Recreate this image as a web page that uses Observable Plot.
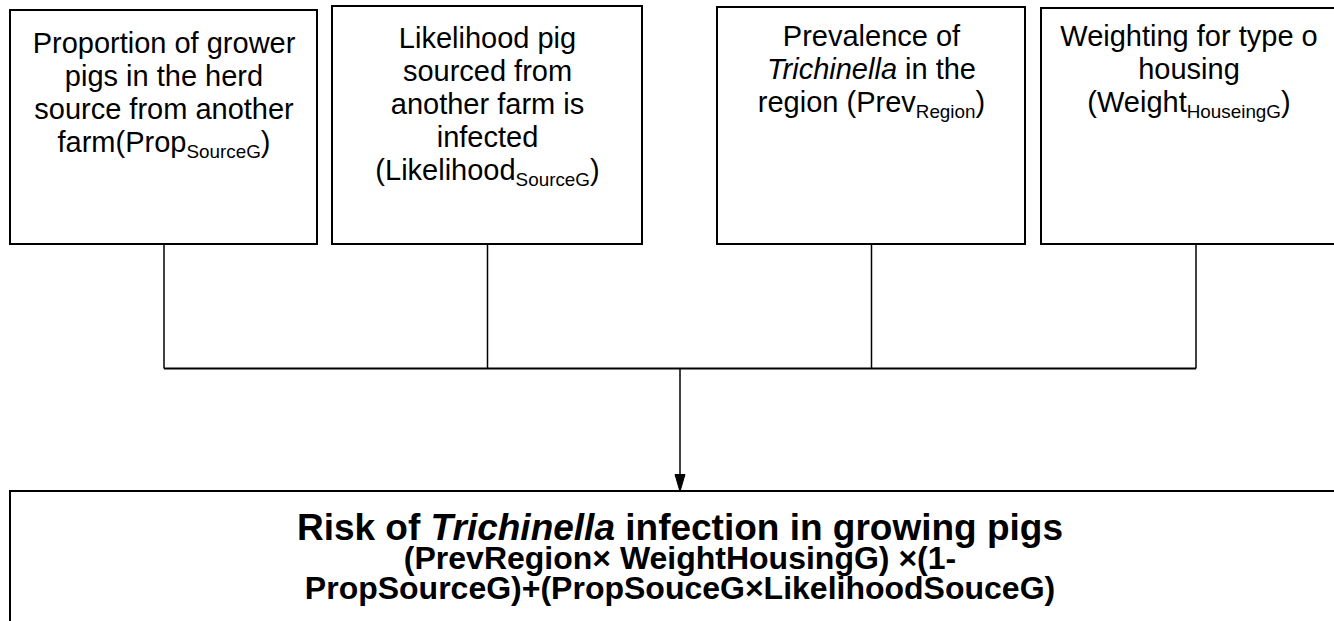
<!DOCTYPE html>
<html>
<head>
<meta charset="utf-8">
<script src="https://cdn.jsdelivr.net/npm/d3@7"></script>
<script src="https://cdn.jsdelivr.net/npm/@observablehq/plot@0.6"></script>
<style>
  html, body { margin: 0; padding: 0; background: #ffffff; overflow: hidden; }
  #chart svg { display: block; }
</style>
</head>
<body>
<div id="chart"></div>
<script>
// ---- Text content (markup: *italic*, _{subscript}) ----
const propSourceLines = ["Proportion of grower", "pigs in the herd", "source from another", "farm(Prop_{SourceG})"];
const likelihoodLines = ["Likelihood pig", "sourced from", "another farm is", "infected", "(Likelihood_{SourceG})"];
const prevalenceLines = ["Prevalence of", "*Trichinella* in the", "region (Prev_{Region})"];
const weightingLines = ["Weighting for type o", "housing", "(Weight_{HouseingG})"];
const inputLines = [propSourceLines, likelihoodLines, prevalenceLines, weightingLines];
const outcomeTitle = "Risk of *Trichinella* infection in growing pigs";
const outcomeFormula = ["(PrevRegion× WeightHousingG) ×(1-", "PropSourceG)+(PropSouceG×LikelihoodSouceG)"];

// ---- Layout (diagram geometry, in pixel-space scale units) ----
const W = 1334, H = 621;
const boxTop = [10, 6, 7, 8];
const boxLeft = [10, 332, 717, 1041];
const boxRight = [317, 642, 1025, 1350];
const boxBottom = 244;
const textCenterShift = [0, 0, 0, -7];
const firstBaseline = [52, 47, 45, 45];
const lineStep = 33;
const busY = 368;
const outcomeBox = {x1: 10, x2: 1350, y1: 491, y2: 660};
const titleBaseline = 539;
const formulaOffsets = [0, 29, 59];   // baseline offsets of title / formula lines
const outcomeSizes = [37, 32, 32];
const arrowLen = 17, arrowHalf = 5;

const boxes = boxLeft.map((x1, i) => ({x1, x2: boxRight[i], y1: boxTop[i], y2: boxBottom}));
const centers = boxes.map(b => (b.x1 + b.x2) / 2);
const hubX = (centers[0] + centers[centers.length - 1]) / 2;

const inputText = inputLines.flatMap((lines, i) =>
  lines.map((t, k) => ({x: centers[i] + textCenterShift[i], y: firstBaseline[i] + k * lineStep, t})));
const outcomeText = [{x: hubX, y: titleBaseline, t: [outcomeTitle, ...outcomeFormula].join("\n")}];

const drops = centers.map(x => ({x, y1: boxBottom, y2: busY}));
const bus = [{x1: centers[0], x2: centers[centers.length - 1], y: busY}];
const shaft = [{x: hubX, y1: busY, y2: outcomeBox.y1 - arrowLen + 1}];
const head = [
  {x: hubX, y: outcomeBox.y1},
  {x: hubX - arrowHalf, y: outcomeBox.y1 - arrowLen},
  {x: hubX + arrowHalf, y: outcomeBox.y1 - arrowLen},
  {x: hubX, y: outcomeBox.y1}
];

const font = "'Liberation Sans', Arial, Helvetica, sans-serif";

const svg = Plot.plot({
  width: W,
  height: H,
  margin: 0,
  style: {background: "#ffffff", fontFamily: font, color: "#000000", overflow: "hidden"},
  x: {domain: [0, W], range: [0, W], axis: null},
  y: {domain: [0, H], range: [0, H], axis: null},
  marks: [
    Plot.rect(boxes, {x1: "x1", x2: "x2", y1: "y1", y2: "y2", fill: "#ffffff", stroke: "#000000", strokeWidth: 2}),
    Plot.link(drops, {x1: "x", x2: "x", y1: "y1", y2: "y2", stroke: "#000000", strokeWidth: 1.5}),
    Plot.link(bus, {x1: "x1", x2: "x2", y1: "y", y2: "y", stroke: "#000000", strokeWidth: 2}),
    Plot.link(shaft, {x1: "x", x2: "x", y1: "y1", y2: "y2", stroke: "#000000", strokeWidth: 1.5}),
    Plot.rect([outcomeBox], {x1: "x1", x2: "x2", y1: "y1", y2: "y2", fill: "#ffffff", stroke: "#000000", strokeWidth: 2}),
    Plot.line(head, {x: "x", y: "y", fill: "#000000", stroke: "#000000", strokeWidth: 1}),
    Plot.text(inputText, {x: "x", y: "y", text: "t", textAnchor: "middle", lineAnchor: "bottom",
      fontSize: 29, fill: "#000000", fontFamily: font}),
    Plot.text(outcomeText, {x: "x", y: "y", text: "t", textAnchor: "middle", lineAnchor: "top",
      fontSize: 32, fontWeight: "bold", fill: "#000000", fontFamily: font})
  ]
});

// Rich text: convert markup into styled tspans (italic / subscript)
function renderMarkup(node) {
  const raw = node.textContent;
  if (!/(\*|_\{)/.test(raw)) return;
  const parts = raw.split(/(\*[^*]+\*|_\{[^}]+\})/).filter(s => s.length);
  const el = d3.select(node);
  el.text(null);
  let shifted = false;
  for (const p of parts) {
    let ts;
    if (p.startsWith("*")) {
      ts = el.append("tspan").attr("font-style", "italic").text(p.slice(1, -1));
    } else if (p.startsWith("_{")) {
      el.append("tspan").attr("font-size", "0.65em").attr("dy", (0.24 / 0.65).toFixed(3) + "em").text(p.slice(2, -1));
      shifted = true;
      continue;
    } else {
      ts = el.append("tspan").text(p);
    }
    if (shifted) { ts.attr("dy", "-0.24em"); shifted = false; }
  }
}

d3.select(svg).selectAll("text").each(function() {
  const lines = Array.from(this.children).filter(c => c.tagName === "tspan");
  if (lines.length) {
    // multi-line outcome block: title line larger, formula lines below
    this.removeAttribute("y");
    this.removeAttribute("dy");
    lines.forEach((ln, k) => {
      ln.removeAttribute("dy");
      ln.setAttribute("x", 0);
      ln.setAttribute("y", formulaOffsets[k]);
      ln.setAttribute("font-size", outcomeSizes[k]);
      renderMarkup(ln);
    });
  } else {
    renderMarkup(this);
  }
});

document.getElementById("chart").appendChild(svg);
</script>
</body>
</html>
